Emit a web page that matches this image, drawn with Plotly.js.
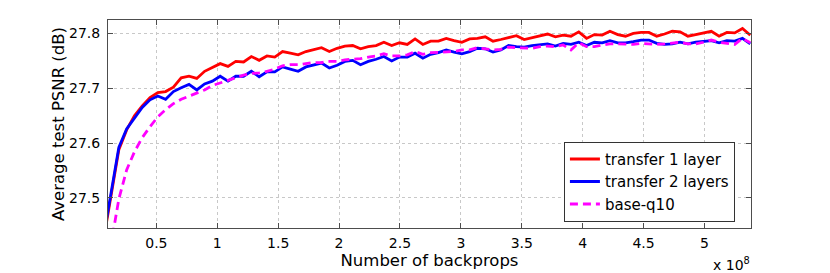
<!DOCTYPE html>
<html>
<head>
<meta charset="utf-8">
<script src="https://cdn.plot.ly/plotly-3.0.1.min.js"></script>
<style>
  html, body { margin: 0; padding: 0; background: #ffffff; }
  #chart { width: 830px; height: 273px; }
</style>
</head>
<body>
<div id="chart"></div>
<script>
// Number of backprops (in units of 1e8)
const backprops = [0.064,0.128,0.192,0.256,0.32,0.384,0.448,0.512,0.576,0.64,
  0.704,0.768,0.832,0.896,0.96,1.024,1.088,1.152,1.216,1.28,
  1.344,1.408,1.472,1.536,1.6,1.664,1.728,1.792,1.856,1.92,
  1.984,2.048,2.112,2.176,2.24,2.304,2.368,2.432,2.496,2.56,
  2.624,2.688,2.752,2.816,2.88,2.944,3.008,3.072,3.136,3.2,
  3.264,3.328,3.392,3.456,3.52,3.584,3.648,3.712,3.776,3.84,
  3.904,3.968,4.032,4.096,4.16,4.224,4.288,4.352,4.416,4.48,
  4.544,4.608,4.672,4.736,4.8,4.864,4.928,4.992,5.056,5.12,
  5.184,5.248,5.312,5.376];

const transfer1 = [27.420,27.501,27.588,27.624,27.650,27.668,27.683,27.692,27.694,27.702,
  27.719,27.722,27.718,27.731,27.738,27.745,27.740,27.749,27.748,27.758,
  27.751,27.759,27.757,27.767,27.764,27.761,27.767,27.770,27.774,27.767,
  27.773,27.777,27.778,27.772,27.776,27.778,27.784,27.778,27.783,27.780,
  27.790,27.780,27.786,27.786,27.791,27.787,27.784,27.790,27.791,27.794,
  27.786,27.789,27.792,27.796,27.789,27.792,27.795,27.799,27.794,27.797,
  27.795,27.803,27.791,27.798,27.797,27.804,27.798,27.795,27.800,27.802,
  27.802,27.795,27.799,27.804,27.803,27.795,27.798,27.801,27.804,27.795,
  27.802,27.801,27.809,27.797];

const transfer2 = [27.426,27.509,27.592,27.626,27.646,27.665,27.679,27.686,27.680,27.694,
  27.701,27.707,27.697,27.708,27.713,27.722,27.713,27.722,27.722,27.731,
  27.721,27.730,27.730,27.739,27.735,27.731,27.739,27.743,27.746,27.737,
  27.742,27.749,27.751,27.743,27.749,27.753,27.758,27.750,27.757,27.757,
  27.764,27.755,27.762,27.765,27.770,27.766,27.763,27.767,27.773,27.772,
  27.766,27.770,27.778,27.776,27.775,27.778,27.780,27.781,27.777,27.782,
  27.780,27.784,27.778,27.784,27.783,27.787,27.783,27.783,27.785,27.788,
  27.788,27.782,27.780,27.781,27.784,27.781,27.784,27.786,27.787,27.783,
  27.787,27.786,27.791,27.781];

const baseQ10 = [27.314,27.415,27.498,27.551,27.584,27.610,27.630,27.648,27.661,27.672,
  27.680,27.686,27.692,27.697,27.705,27.710,27.714,27.719,27.724,27.727,
  27.728,27.731,27.735,27.741,27.743,27.743,27.745,27.747,27.747,27.749,
  27.749,27.752,27.753,27.754,27.757,27.759,27.763,27.759,27.759,27.761,
  27.767,27.762,27.765,27.766,27.766,27.767,27.770,27.770,27.774,27.772,
  27.770,27.771,27.775,27.774,27.773,27.773,27.776,27.777,27.776,27.779,
  27.770,27.783,27.776,27.776,27.779,27.781,27.781,27.780,27.780,27.782,
  27.781,27.780,27.781,27.783,27.784,27.781,27.781,27.784,27.788,27.784,
  27.782,27.780,27.791,27.783];

const seriesNames = ["transfer 1 layer", "transfer 2 layers", "base-q10"];
const xTickVals = [0.5, 1, 1.5, 2, 2.5, 3, 3.5, 4, 4.5, 5];
const xTickText = ["0.5", "1", "1.5", "2", "2.5", "3", "3.5", "4", "4.5", "5"];
const yTickVals = [27.5, 27.6, 27.7, 27.8];
const yTickText = ["27.5", "27.6", "27.7", "27.8"];

const FONT = "DejaVu Sans, Verdana, sans-serif";

const traces = [
  { x: backprops, y: transfer1, name: seriesNames[0], type: "scatter", mode: "lines",
    line: { color: "#ff0000", width: 2.8 } },
  { x: backprops, y: transfer2, name: seriesNames[1], type: "scatter", mode: "lines",
    line: { color: "#0000ff", width: 2.8 } },
  { x: backprops, y: baseQ10, name: seriesNames[2], type: "scatter", mode: "lines",
    line: { color: "#ff00ff", width: 2.8, dash: "8px,5px" } }
];

const axisCommon = {
  showline: true, linecolor: "#4d4d4d", linewidth: 1, mirror: "ticks",
  ticks: "inside", ticklen: 5, tickcolor: "#4d4d4d", tickwidth: 1,
  showgrid: true, gridcolor: "#c8c8c8", gridwidth: 1, griddash: "dot",
  zeroline: false, tickfont: { family: FONT, size: 14, color: "#000" }
};

const layout = {
  width: 830, height: 273,
  margin: { l: 108, r: 79, t: 20, b: 45, pad: 0 },
  paper_bgcolor: "#ffffff", plot_bgcolor: "#ffffff",
  font: { family: FONT, color: "#000" },
  showlegend: true,
  xaxis: Object.assign({}, axisCommon, {
    range: [0.103, 5.382], tickmode: "array", tickvals: xTickVals, ticktext: xTickText,
    ticklabelstandoff: 2,
    title: { text: "Number of backprops", font: { family: FONT, size: 16.5, color: "#000" }, standoff: 2 }
  }),
  yaxis: Object.assign({}, axisCommon, {
    range: [27.4451, 27.8246], tickmode: "array", tickvals: yTickVals, ticktext: yTickText,
    ticklabelstandoff: 4,
    title: { text: "Average test PSNR (dB)", font: { family: FONT, size: 16.5, color: "#000" }, standoff: 0 }
  }),
  legend: {
    x: 0.975, y: 0.03, xanchor: "right", yanchor: "bottom",
    bgcolor: "#ffffff", bordercolor: "#333333", borderwidth: 1,
    font: { family: FONT, size: 15, color: "#000" },
    itemwidth: 30, tracegroupgap: 0
  },
  annotations: [
    { xref: "paper", yref: "paper", x: 0.94, y: -0.222, xanchor: "left", yanchor: "bottom",
      text: "x 10<sup>8</sup>", showarrow: false, borderpad: 0,
      font: { family: FONT, size: 14, color: "#000" } }
  ]
};

Plotly.newPlot("chart", traces, layout, { displayModeBar: false, staticPlot: true });
</script>
</body>
</html>
